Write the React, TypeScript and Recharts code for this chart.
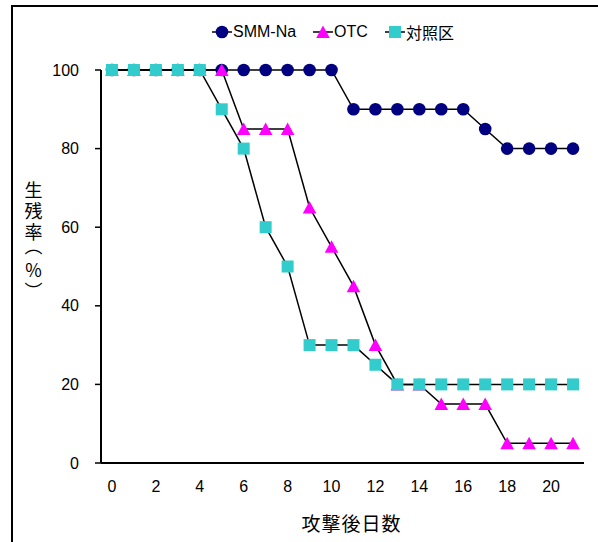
import React from 'react';
import { LineChart, Line, XAxis, YAxis, Legend } from 'recharts';

// ---- data ----
const DAYS = [0, 1, 2, 3, 4, 5, 6, 7, 8, 9, 10, 11, 12, 13, 14, 15, 16, 17, 18, 19, 20, 21];
const SMM_NA = [100, 100, 100, 100, 100, 100, 100, 100, 100, 100, 100, 90, 90, 90, 90, 90, 90, 85, 80, 80, 80, 80];
const OTC = [100, 100, 100, 100, 100, 100, 85, 85, 85, 65, 55, 45, 30, 20, 20, 15, 15, 15, 5, 5, 5, 5];
const CONTROL = [100, 100, 100, 100, 100, 90, 80, 60, 50, 30, 30, 30, 25, 20, 20, 20, 20, 20, 20, 20, 20, 20];
const X_TICK_LABELS = [0, 2, 4, 6, 8, 10, 12, 14, 16, 18, 20];
const Y_TICKS = [0, 20, 40, 60, 80, 100];
const SERIES_NAMES = ['SMM-Na', 'OTC', '対照区'];
const Y_TITLE_CHARS = ['生', '残', '率', '︵', '％', '︶'];
const X_TITLE = '攻撃後日数';

const data = DAYS.map((d, i) => ({ day: d, smm: SMM_NA[i], otc: OTC[i], ctrl: CONTROL[i] }));
const X_BOUNDS = [...DAYS.map((d) => d - 0.5), DAYS[DAYS.length - 1] + 0.5];
const X_DOMAIN: [number, number] = [X_BOUNDS[0], X_BOUNDS[X_BOUNDS.length - 1]];

const LATIN = '"Liberation Sans", Arial, sans-serif';
const CJK = '"Noto Sans CJK JP", sans-serif';

const NAVY = '#000080';
const MAGENTA = '#FF00FF';
const CYAN = '#33CCCC';

const CircleDot = (props: any) => {
  const { cx, cy } = props;
  if (cx == null || cy == null) return null;
  return <circle cx={cx} cy={cy} r={6.3} fill={NAVY} />;
};
const TriangleDot = (props: any) => {
  const { cx, cy } = props;
  if (cx == null || cy == null) return null;
  return <path d={`M${cx},${cy - 6.5}L${cx + 6.8},${cy + 6}L${cx - 6.8},${cy + 6}Z`} fill={MAGENTA} />;
};
const SquareDot = (props: any) => {
  const { cx, cy } = props;
  if (cx == null || cy == null) return null;
  return <rect x={cx - 6} y={cy - 6} width={12} height={12} fill={CYAN} />;
};

const MARKERS = [CircleDot, TriangleDot, SquareDot];

const LegendContent = () => (
  <div style={{ display: 'flex', alignItems: 'center', height: 20, lineHeight: '20px', fontSize: 16, color: '#000', whiteSpace: 'nowrap' }}>
    {SERIES_NAMES.map((name, i) => {
      const M = MARKERS[i];
      return (
        <div key={name} style={{ display: 'flex', alignItems: 'center', marginRight: 17 }}>
          <svg width={20} height={16} style={{ display: 'block' }}>
            <line x1={0} x2={20} y1={8} y2={8} stroke="#000" strokeWidth={1.5} />
            <M cx={10} cy={8} />
          </svg>
          <span style={{ marginLeft: 1, fontFamily: i === 2 ? CJK : LATIN }}>{name}</span>
        </div>
      );
    })}
  </div>
);

// vertical centres of each stacked character (layout only)
const Y_TITLE_POS = [190.5, 211, 232, 246, 270, 291];
const YTitle = () => (
  <text fontFamily={CJK} fontSize={18} fill="#000" textAnchor="middle">
    {Y_TITLE_CHARS.map((ch, i) => (
      <tspan key={i} x={33.5} y={Y_TITLE_POS[i] + 6.8}>
        {ch}
      </tspan>
    ))}
  </text>
);

export default function App() {
  return (
    <div style={{ position: 'absolute', left: 0, top: 0, width: 598, height: 542, overflow: 'hidden', background: '#fff' }}>
      <div
        style={{
          position: 'absolute',
          left: 11,
          top: 5,
          width: 620,
          height: 600,
          borderTop: '2px solid #000',
          borderLeft: '2px solid #000',
        }}
      />
      <LineChart width={598} height={542} data={data} margin={{ top: 70, right: 14, bottom: 39, left: 41 }}>
        <XAxis
          xAxisId="ticks"
          dataKey="day"
          type="number"
          domain={X_DOMAIN}
          ticks={X_BOUNDS}
          height={0}
          axisLine={false}
          tick={false}
          tickSize={-6}
          tickLine={{ stroke: '#000', strokeWidth: 1.5 }}
          allowDataOverflow
        />
        <XAxis
          dataKey="day"
          type="number"
          domain={X_DOMAIN}
          ticks={X_TICK_LABELS}
          height={40}
          axisLine={{ stroke: '#000', strokeWidth: 2 }}
          tickLine={false}
          tickSize={0}
          tickMargin={18}
          tick={{ fontFamily: LATIN, fontSize: 16, fill: '#000' }}
          interval={0}
          allowDataOverflow
          label={{ value: X_TITLE, position: 'bottom', offset: 15, dx: 9, fontFamily: CJK, fontSize: 19, fill: '#000', letterSpacing: 1 }}
        />
        <XAxis
          xAxisId="top"
          orientation="top"
          dataKey="day"
          type="number"
          domain={X_DOMAIN}
          height={0}
          axisLine={{ stroke: '#888', strokeWidth: 1.5 }}
          tick={false}
          tickLine={false}
          allowDataOverflow
        />
        <YAxis
          type="number"
          domain={[0, 100]}
          ticks={Y_TICKS}
          width={60}
          axisLine={{ stroke: '#000', strokeWidth: 2 }}
          tickLine={{ stroke: '#000', strokeWidth: 1.5 }}
          tickSize={6}
          tickMargin={16}
          tick={{ fontFamily: LATIN, fontSize: 16, fill: '#000' }}
          interval={0}
          label={<YTitle />}
        />
        <YAxis
          yAxisId="right"
          orientation="right"
          type="number"
          domain={[0, 100]}
          width={0}
          axisLine={{ stroke: '#888', strokeWidth: 1.5 }}
          tick={false}
          tickLine={false}
        />
        <Legend
          layout="horizontal"
          verticalAlign="middle"
          align="center"
          content={<LegendContent />}
          wrapperStyle={{ top: 22, left: 212, width: 'auto', height: 20 }}
        />
        <Line dataKey="smm" name={SERIES_NAMES[0]} stroke="#000" strokeWidth={1.5} dot={<CircleDot />} activeDot={false} isAnimationActive={false} />
        <Line dataKey="otc" name={SERIES_NAMES[1]} stroke="#000" strokeWidth={1.5} dot={<TriangleDot />} activeDot={false} isAnimationActive={false} />
        <Line dataKey="ctrl" name={SERIES_NAMES[2]} stroke="#000" strokeWidth={1.5} dot={<SquareDot />} activeDot={false} isAnimationActive={false} />
      </LineChart>
    </div>
  );
}
